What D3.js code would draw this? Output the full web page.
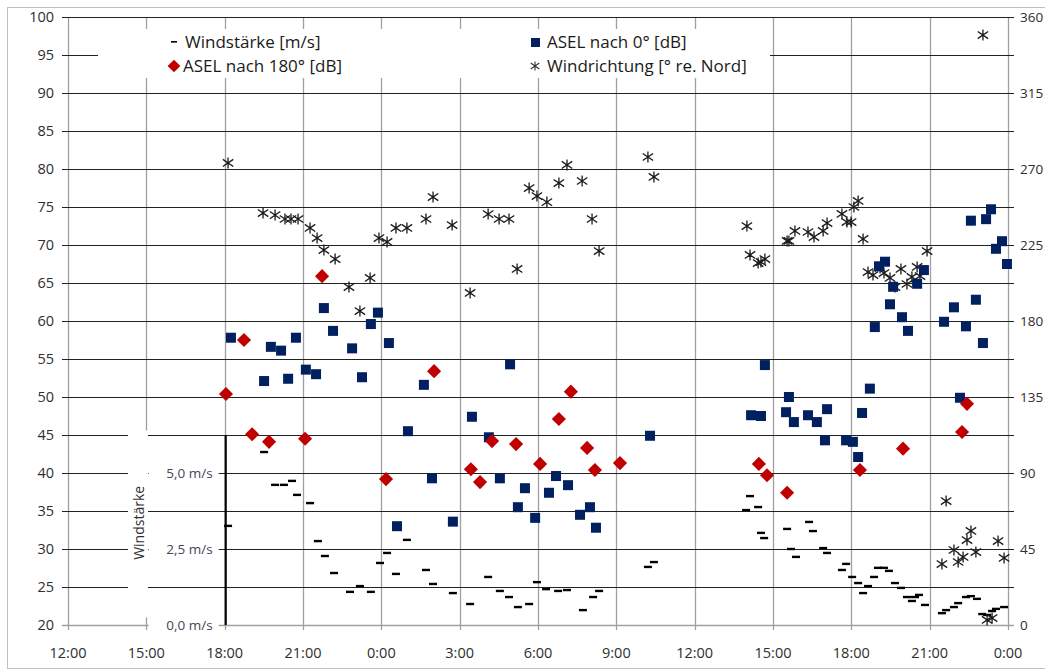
<!DOCTYPE html>
<html>
<head>
<meta charset="utf-8">
<script src="https://cdnjs.cloudflare.com/ajax/libs/d3/7.8.5/d3.min.js"></script>
<style>
  body { margin: 0; background: #fff; }
  text { font-family: "Open Sans", "DejaVu Sans", sans-serif; }
</style>
</head>
<body>
<svg width="1045" height="671"></svg>
<script>
// time = hours since 12:00 on the first day

var timeTicks = [0, 3, 6, 9, 12, 15, 18, 21, 24, 27, 30, 33, 36];
var timeLabels = ["12:00", "15:00", "18:00", "21:00", "0:00", "3:00", "6:00", "9:00",
                  "12:00", "15:00", "18:00", "21:00", "0:00"];
var dbTicks = d3.range(20, 101, 5);
var degTicks = d3.range(0, 361, 45);
var windTicks = [0, 2.5, 5];
var windTickLabels = ["0,0 m/s", "2,5 m/s", "5,0 m/s"];

// ASEL nach 0° [dB]
var asel0 = [
  [6.24, 57.8], [7.51, 52.1], [7.77, 56.6], [8.16, 56.1], [8.43, 52.4], [8.73, 57.8],
  [9.11, 53.6], [9.50, 53.0], [9.80, 61.7], [10.15, 58.7], [10.88, 56.4], [11.26, 52.6],
  [11.60, 59.6], [11.87, 61.1], [12.29, 57.1], [12.60, 33.0], [13.02, 45.5], [13.63, 51.6],
  [13.94, 39.3], [14.74, 33.6], [15.47, 47.4], [16.12, 44.7], [16.54, 39.3], [16.93, 54.3],
  [17.23, 35.5], [17.50, 38.0], [17.89, 34.1], [18.42, 37.4], [18.69, 39.6], [19.15, 38.4],
  [19.61, 34.5], [19.99, 35.5], [20.22, 32.8], [22.29, 44.9],
  [26.16, 47.6], [26.54, 47.5], [26.69, 54.2], [27.50, 48.0], [27.61, 50.0], [27.80, 46.7],
  [28.34, 47.6], [28.68, 46.7], [29.07, 48.4], [28.99, 44.3], [29.80, 44.3], [30.06, 44.1],
  [30.26, 42.1], [30.41, 47.9], [30.71, 51.1], [30.90, 59.2], [31.06, 67.2], [31.29, 67.8],
  [31.48, 62.2], [31.60, 64.5], [31.94, 60.5], [32.17, 58.7], [32.52, 64.9], [32.78, 66.7],
  [33.55, 59.9], [33.93, 61.8], [34.16, 49.9], [34.39, 59.3], [34.58, 73.2], [34.77, 62.8],
  [35.04, 57.1], [35.16, 73.4], [35.35, 74.7], [35.54, 69.5], [35.77, 70.5], [35.96, 67.5]
];

// ASEL nach 180° [dB]
var asel180 = [
  [6.05, 50.4], [6.74, 57.5], [7.05, 45.1], [7.70, 44.1], [9.08, 44.5], [9.73, 65.9],
  [12.18, 39.2], [14.02, 53.4], [15.43, 40.5], [15.78, 38.8], [16.24, 44.2], [17.16, 43.8],
  [18.08, 41.2], [18.80, 47.1], [19.26, 50.7], [19.88, 43.3], [20.18, 40.4], [21.14, 41.3],
  [26.46, 41.2], [26.77, 39.7], [27.54, 37.4], [30.33, 40.4], [31.98, 43.2], [34.24, 45.4],
  [34.43, 49.1]
];

// Windrichtung [° re. Nord]
var windDir = [
  [6.13, 273.6], [7.47, 243.9], [7.93, 242.7], [8.31, 240.4], [8.54, 240.4], [8.81, 240.4],
  [9.27, 235.1], [9.54, 229.1], [9.80, 222.0], [10.23, 216.7], [10.76, 200.1], [11.18, 185.9],
  [11.57, 205.5], [11.91, 229.1], [12.22, 226.8], [12.56, 235.1], [12.98, 235.1], [13.71, 240.4],
  [13.98, 253.4], [14.71, 236.8], [15.40, 196.6], [16.09, 243.3], [16.51, 240.4], [16.89, 240.4],
  [17.20, 210.8], [17.66, 258.7], [17.96, 254.0], [18.34, 250.4], [18.80, 261.7], [19.11, 272.4],
  [19.69, 262.9], [20.07, 240.4], [20.34, 221.4], [22.21, 277.1], [22.44, 265.3],
  [26.00, 236.2], [26.12, 219.1], [26.43, 214.3], [26.54, 214.9], [26.69, 216.7], [27.54, 227.4],
  [27.61, 227.4], [27.84, 233.3], [28.34, 232.7], [28.57, 229.7], [28.92, 233.3], [29.07, 238.0],
  [29.64, 243.4], [29.83, 238.6], [29.99, 238.6], [30.10, 247.5], [30.26, 251.1], [30.45, 228.6],
  [30.64, 209.0], [30.83, 207.2], [31.10, 211.4], [31.25, 208.4], [31.48, 205.5], [31.67, 200.1],
  [31.90, 210.8], [32.13, 201.9], [32.32, 206.1], [32.52, 212.0], [32.63, 206.6], [32.90, 221.4],
  [33.47, 36.1], [33.63, 73.4], [33.93, 44.4], [34.09, 37.3], [34.28, 40.3], [34.43, 50.3],
  [34.58, 55.7], [34.77, 43.2], [35.04, 349.3], [35.20, 3.0], [35.39, 4.1], [35.62, 49.7],
  [35.85, 39.7]
];

// Windstärke [m/s]
var windSpeed = [
  [6.13, 3.26], [7.51, 5.69], [7.93, 4.61], [8.27, 4.61], [8.58, 4.74], [8.77, 4.28],
  [9.27, 4.01], [9.57, 2.76], [9.84, 2.27], [10.19, 1.71], [10.80, 1.09], [11.18, 1.28],
  [11.60, 1.09], [11.95, 2.04], [12.22, 2.37], [12.56, 1.68], [12.98, 2.80], [13.71, 1.81],
  [13.98, 1.35], [14.74, 1.05], [15.40, 0.69], [16.09, 1.58], [16.54, 1.12], [16.89, 0.92],
  [17.23, 0.59], [17.66, 0.69], [17.96, 1.41], [18.31, 1.18], [18.77, 1.12], [19.11, 1.15],
  [19.72, 0.49], [20.11, 0.92], [20.34, 1.12], [22.21, 1.91], [22.44, 2.07],
  [25.97, 3.78], [26.12, 4.24], [26.43, 3.88], [26.54, 3.03], [26.66, 2.86], [27.54, 3.16],
  [27.69, 2.50], [27.88, 2.24], [28.38, 3.39], [28.53, 3.09], [28.92, 2.53], [29.07, 2.37],
  [29.64, 1.81], [29.80, 2.01], [30.03, 1.58], [30.26, 1.38], [30.45, 1.05], [30.64, 1.28],
  [30.87, 1.58], [31.02, 1.88], [31.25, 1.88], [31.44, 1.78], [31.67, 1.38], [31.90, 1.22],
  [32.13, 0.92], [32.32, 0.79], [32.44, 0.92], [32.59, 0.99], [32.82, 0.66], [33.47, 0.39],
  [33.63, 0.49], [33.93, 0.59], [34.09, 0.72], [34.39, 0.92], [34.58, 0.95], [34.81, 0.86],
  [35.01, 0.36], [35.20, 0.33], [35.39, 0.46], [35.54, 0.53], [35.85, 0.59]
];

var svg = d3.select("svg"),
    margin = {top: 17, right: 37, bottom: 46, left: 68},
    w = +svg.attr("width") - margin.left - margin.right,
    h = +svg.attr("height") - margin.top - margin.bottom;

var x = d3.scaleLinear().domain([0, 36]).range([0, w]),
    y = d3.scaleLinear().domain([20, 100]).range([h, 0]),
    yDeg = d3.scaleLinear().domain([0, 360]).range([h, 0]),
    yWind = d3.scaleLinear().domain([0, 20]).range([h, 0]);

var labelColor = "#2e2e2e";

// chart border
svg.append("rect")
    .attr("x", 7.5).attr("y", 7.5)
    .attr("width", 1045).attr("height", 661)
    .attr("fill", "none").attr("stroke", "#bfbfbf");

var g = svg.append("g")
    .attr("transform", "translate(" + margin.left + "," + margin.top + ")");

// vertical grid (gray)
g.append("g")
    .selectAll("line").data(timeTicks).enter().append("line")
    .attr("x1", function(d) { return Math.round(x(d)) + 0.5; })
    .attr("x2", function(d) { return Math.round(x(d)) + 0.5; })
    .attr("y1", 0).attr("y2", h + 5)
    .attr("stroke", "#a0a0a0").attr("stroke-width", 1.3);

// horizontal grid (dark)
g.append("g")
    .selectAll("line").data(dbTicks.filter(function(d) { return d > 20; })).enter().append("line")
    .attr("x1", -6).attr("x2", w + 6)
    .attr("y1", function(d) { return Math.round(y(d)) + 0.5; })
    .attr("y2", function(d) { return Math.round(y(d)) + 0.5; })
    .attr("stroke", "#222").attr("stroke-width", 1.1);

// bottom axis line
g.append("line")
    .attr("x1", -6).attr("x2", w + 6)
    .attr("y1", h + 0.5).attr("y2", h + 0.5)
    .attr("stroke", "#a0a0a0").attr("stroke-width", 1.3);

// left labels
g.append("g").selectAll("text").data(dbTicks).enter().append("text")
    .attr("x", -14).attr("y", function(d) { return y(d); })
    .attr("dy", "0.35em").attr("text-anchor", "end")
    .attr("font-size", 14.5).attr("fill", labelColor)
    .text(function(d) { return d; });

// right labels
g.append("g").selectAll("text").data(degTicks).enter().append("text")
    .attr("x", w + 12).attr("y", function(d) { return yDeg(d); })
    .attr("dy", "0.35em").attr("text-anchor", "start")
    .attr("font-size", 13.5).attr("fill", labelColor)
    .text(function(d) { return d; });

// bottom labels
g.append("g").selectAll("text").data(timeTicks).enter().append("text")
    .attr("x", function(d) { return x(d); }).attr("y", h + 28)
    .attr("dy", "0.35em").attr("text-anchor", "middle")
    .attr("font-size", 14.5).attr("fill", labelColor)
    .text(function(d, i) { return timeLabels[i]; });

// white block behind the wind axis title
g.append("rect")
    .attr("x", 60).attr("y", y(45.6)).attr("width", 20).attr("height", y(21) - y(45.6))
    .attr("fill", "#fff");

// wind axis (inset at 18:00)
var windAxisX = x(6);
g.append("g").selectAll("rect").data(windTicks).enter().append("rect")
    .attr("x", windAxisX - 76).attr("y", function(d) { return yWind(d) - 8; })
    .attr("width", 70).attr("height", 16).attr("fill", "#fff");

g.append("line")
    .attr("x1", windAxisX + 1).attr("x2", windAxisX + 1)
    .attr("y1", y(45)).attr("y2", h)
    .attr("stroke", "#000").attr("stroke-width", 2.2);

g.append("g").selectAll("text").data(windTicks).enter().append("text")
    .attr("x", windAxisX - 12).attr("y", function(d) { return yWind(d); })
    .attr("dy", "0.35em").attr("text-anchor", "end")
    .attr("font-size", 13.5).attr("fill", "#3f4758")
    .text(function(d, i) { return windTickLabels[i]; });

g.append("text")
    .attr("transform", "translate(" + 71 + "," + yWind(3.36) + ") rotate(-90)")
    .attr("text-anchor", "middle").attr("dy", "0.35em")
    .attr("font-size", 14).attr("fill", labelColor)
    .text("Windstärke");

// legend box
svg.append("rect")
    .attr("x", 98).attr("y", 29).attr("width", 672).attr("height", 49)
    .attr("fill", "#fff");

// marker helpers
function asteriskPath(s) {
  return "M0," + (-s) + "L0," + s +
         "M" + (-s * 0.95) + "," + (-s * 0.65) + "L" + (s * 0.95) + "," + (s * 0.65) +
         "M" + (-s * 0.95) + "," + (s * 0.65) + "L" + (s * 0.95) + "," + (-s * 0.65);
}

// wind strength dashes
g.append("g").selectAll("rect").data(windSpeed).enter().append("rect")
    .attr("x", function(d) { return x(d[0]) - 4; })
    .attr("y", function(d) { return yWind(d[1]) - 1.2; })
    .attr("width", 8).attr("height", 2.4)
    .attr("fill", "#000");

// wind direction asterisks
g.append("g").selectAll("path").data(windDir).enter().append("path")
    .attr("transform", function(d) { return "translate(" + x(d[0]) + "," + yDeg(d[1]) + ")"; })
    .attr("d", asteriskPath(5.5))
    .attr("fill", "none").attr("stroke", "#1a1a1a").attr("stroke-width", 1.3);

// ASEL 0°
g.append("g").selectAll("rect").data(asel0).enter().append("rect")
    .attr("x", function(d) { return x(d[0]) - 5; })
    .attr("y", function(d) { return y(d[1]) - 5; })
    .attr("width", 10).attr("height", 10)
    .attr("fill", "#002060");

// ASEL 180°
g.append("g").selectAll("rect").data(asel180).enter().append("rect")
    .attr("transform", function(d) { return "translate(" + x(d[0]) + "," + y(d[1]) + ") rotate(45)"; })
    .attr("x", -5).attr("y", -5)
    .attr("width", 10).attr("height", 10)
    .attr("fill", "#c00000");

// legend
var legend = svg.append("g").attr("font-size", 17).attr("fill", "#1a1a1a");

legend.append("rect").attr("x", 171).attr("y", 41).attr("width", 6).attr("height", 1.6).attr("fill", "#000");
legend.append("text").attr("x", 185).attr("y", 42).attr("dy", "0.35em").text("Windstärke [m/s]");

legend.append("rect").attr("transform", "translate(174,66) rotate(45)")
    .attr("x", -4.5).attr("y", -4.5).attr("width", 9).attr("height", 9).attr("fill", "#c00000");
legend.append("text").attr("x", 183).attr("y", 66).attr("dy", "0.35em").text("ASEL nach 180° [dB]");

legend.append("rect").attr("x", 531).attr("y", 38).attr("width", 9).attr("height", 9).attr("fill", "#002060");
legend.append("text").attr("x", 547).attr("y", 42).attr("dy", "0.35em").text("ASEL nach 0° [dB]");

legend.append("path").attr("transform", "translate(535,66)")
    .attr("d", asteriskPath(4.5))
    .attr("fill", "none").attr("stroke", "#333").attr("stroke-width", 1.1);
legend.append("text").attr("x", 547).attr("y", 66).attr("dy", "0.35em").text("Windrichtung [° re. Nord]");
</script>
</body>
</html>
